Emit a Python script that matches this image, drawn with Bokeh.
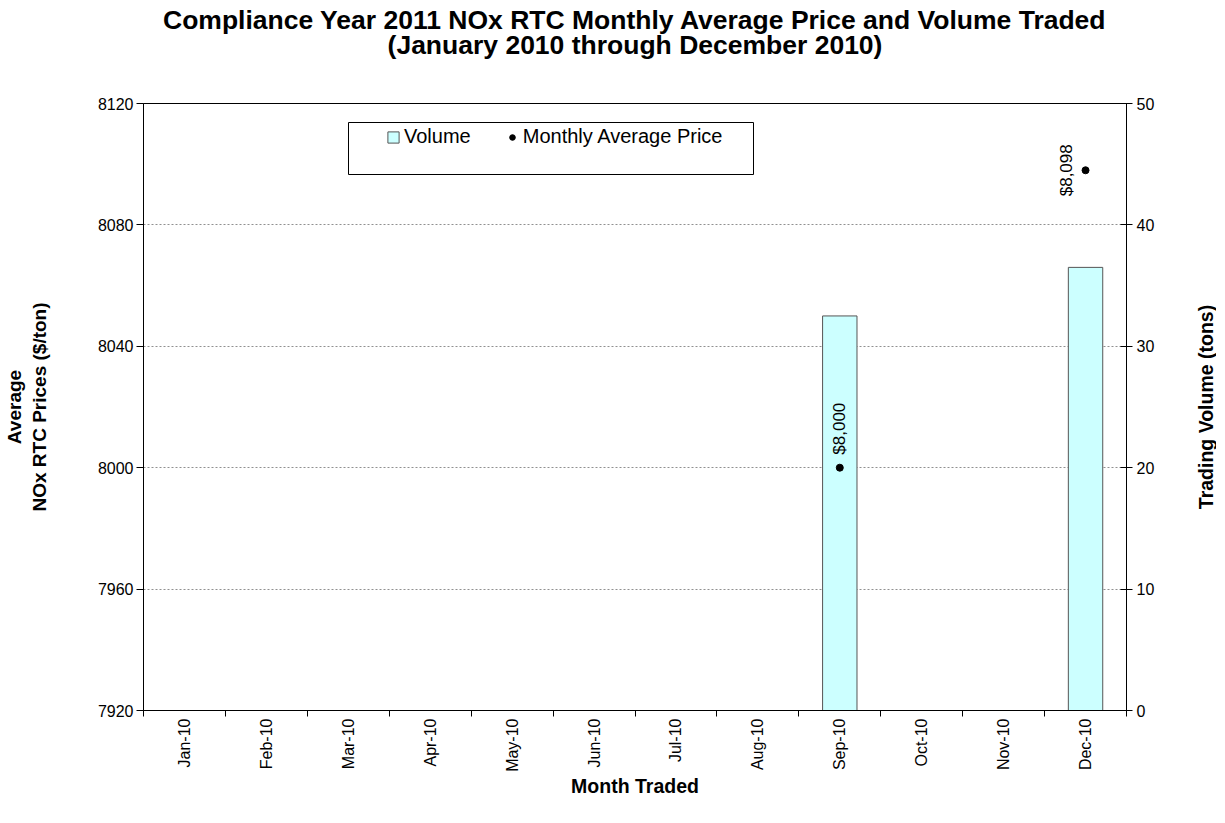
import math
from bokeh.plotting import figure
from bokeh.layouts import row
from bokeh.models import (Range1d, LinearAxis, FixedTicker, Legend, LegendItem,
                          BoxAnnotation, ColumnDataSource, Title, Label)
from bokeh.core.properties import value
from bokeh.embed import file_html
from bokeh.resources import INLINE

# ---------------- data ----------------
months = ["Jan-10", "Feb-10", "Mar-10", "Apr-10", "May-10", "Jun-10",
          "Jul-10", "Aug-10", "Sep-10", "Oct-10", "Nov-10", "Dec-10"]
volume_tons = [0, 0, 0, 0, 0, 0, 0, 0, 32.5, 0, 0, 36.5]
avg_price = [None, None, None, None, None, None, None, None, 8000, None, None, 8098]
price_ticks = [7920, 7960, 8000, 8040, 8080, 8120]
volume_ticks = [0, 10, 20, 30, 40, 50]
title_lines = ["Compliance Year 2011 NOx RTC Monthly Average Price and Volume Traded",
               "(January 2010 through December 2010)"]
x_title = "Month Traded"
y_title = "Average\nNOx RTC Prices ($/ton)"
y2_title = "Trading Volume (tons)"

FONT = "Liberation Sans"
FRAME_W, FRAME_H = 983, 607
TOP, BOTTOM = 103, 100

idx = list(range(len(months)))

p = figure(frame_width=FRAME_W, frame_height=FRAME_H,
           x_range=Range1d(-0.5, len(months) - 0.5),
           y_range=Range1d(price_ticks[0], price_ticks[-1]),
           output_backend="svg", toolbar_location=None,
           min_border_left=137, min_border_right=40,
           min_border_top=TOP, min_border_bottom=BOTTOM,
           background_fill_color="white", border_fill_color="white",
           outline_line_color="black", outline_line_width=1)
p.extra_y_ranges = {"vol": Range1d(volume_ticks[0], volume_ticks[-1])}
p.title.text = ""


def make_title(text, size, standoff):
    t = Title(text=text, align="center", text_font=FONT, text_font_style="bold",
              text_font_size=size, text_color="black", standoff=0)
    try:
        t.standoff = standoff
    except Exception:
        t.standoff = 0
    return t


# title: spacer (closest to frame), then second line, then first line
p.add_layout(Title(text=" ", text_font_size="1px", standoff=41), "above")
p.add_layout(make_title(title_lines[1], "26.5px", 0), "above")
p.add_layout(make_title(title_lines[0], "26.5px", -14), "above")

# grid
p.xgrid.grid_line_color = None
p.ygrid.ticker = FixedTicker(ticks=price_ticks)
p.ygrid.grid_line_color = "#909090"
p.ygrid.grid_line_dash = "2 2"
p.ygrid.grid_line_width = 1

# x axis
xa = p.xaxis[0]
xa.ticker = FixedTicker(ticks=idx, minor_ticks=[i - 0.5 for i in range(len(months) + 1)])
xa.major_label_overrides = {i: m for i, m in zip(idx, months)}
xa.major_label_orientation = math.pi / 2
xa.major_tick_line_color = None
xa.major_tick_out = 6
xa.major_tick_in = 0
xa.minor_tick_line_color = "black"
xa.minor_tick_out = 6
xa.minor_tick_in = 0
xa.major_label_standoff = 2
xa.axis_line_color = "black"
xa.major_label_text_font = FONT
xa.major_label_text_font_size = "16px"
xa.major_label_text_color = "black"
xa.axis_label = x_title
xa.axis_label_text_font = FONT
xa.axis_label_text_font_style = "bold"
xa.axis_label_text_font_size = "19.5px"
xa.axis_label_text_color = "black"
xa.axis_label_standoff = 0

# left axis
ya = p.yaxis[0]
ya.ticker = FixedTicker(ticks=price_ticks)
ya.major_tick_out = 7
ya.major_tick_in = 0
ya.minor_tick_line_color = None
ya.major_label_standoff = 3
ya.axis_line_color = "black"
ya.major_tick_line_color = "black"
ya.major_label_text_font = FONT
ya.major_label_text_font_size = "16px"
ya.major_label_text_color = "black"
ya.axis_label = y_title
ya.axis_label_text_font = FONT
ya.axis_label_text_font_style = "bold"
ya.axis_label_text_font_size = "19px"
ya.axis_label_text_color = "black"
ya.axis_label_standoff = 45

# right axis (ticks and tick labels)
ra = LinearAxis(y_range_name="vol", ticker=FixedTicker(ticks=volume_ticks),
                major_tick_in=6, major_tick_out=6, minor_tick_line_color=None,
                major_label_standoff=4, axis_line_color="black",
                major_tick_line_color="black",
                major_label_text_font=FONT, major_label_text_font_size="16px",
                major_label_text_color="black")
p.add_layout(ra, "right")

# bars
bar_src = ColumnDataSource(dict(
    x=[i for i, v in zip(idx, volume_tons) if v],
    top=[v for v in volume_tons if v]))
bars = p.vbar(x="x", top="top", bottom=0, width=0.42, source=bar_src,
              y_range_name="vol", fill_color="#ccffff", line_color="#555555",
              line_width=1)

# price points
pt_x = [i for i, v in zip(idx, avg_price) if v is not None]
pt_y = [v for v in avg_price if v is not None]
pts = p.scatter(x=pt_x, y=pt_y, size=7, fill_color="black", line_color="black")

label_style = [dict(x_offset=0, y_offset=-13, text_align="left"),
               dict(x_offset=-19, y_offset=0, text_align="center")]
for (x, y), st in zip(zip(pt_x, pt_y), label_style):
    p.text(x=[x], y=[y], text=[f"${y:,.0f}"], angle=math.pi / 2,
           text_baseline="middle", text_font=value(FONT), text_font_size="17px",
           text_color="black", **st)

# legend box + legend
box = BoxAnnotation(left=205, right=610, bottom=536, top=588,
                    left_units="screen", right_units="screen",
                    top_units="screen", bottom_units="screen",
                    fill_color="white", fill_alpha=1.0,
                    line_color="black", line_width=1, line_alpha=1.0)
p.add_layout(box)

legend = Legend(items=[LegendItem(label="Volume", renderers=[bars]),
                       LegendItem(label="Monthly Average Price", renderers=[pts])],
                orientation="horizontal", location=(243, 562),
                border_line_color=None, background_fill_alpha=0.0,
                padding=0, margin=0, spacing=34, glyph_width=14, glyph_height=14,
                label_standoff=4, label_text_font=FONT, label_text_font_size="20px",
                label_text_color="black")
p.add_layout(legend)

# secondary-axis title in a narrow strip to the right (reads bottom-to-top)
strip_w = 50
p2 = figure(frame_width=strip_w, frame_height=FRAME_H,
            x_range=Range1d(0, 1), y_range=Range1d(0, 1),
            x_axis_type=None, y_axis_type=None,
            output_backend="svg", toolbar_location=None,
            min_border_left=0, min_border_right=0,
            min_border_top=TOP, min_border_bottom=BOTTOM,
            outline_line_color=None, background_fill_color="white",
            border_fill_color="white")
p2.title.text = ""
p2.add_layout(Label(x=39, y=FRAME_H / 2, x_units="screen", y_units="screen",
                    text=y2_title, angle=math.pi / 2, text_align="center",
                    text_baseline="middle", text_font=FONT, text_font_style="bold",
                    text_font_size="19.5px", text_color="black"))

layout = row(p, p2, spacing=0)
open("out.html", "w").write(file_html(layout, INLINE))
